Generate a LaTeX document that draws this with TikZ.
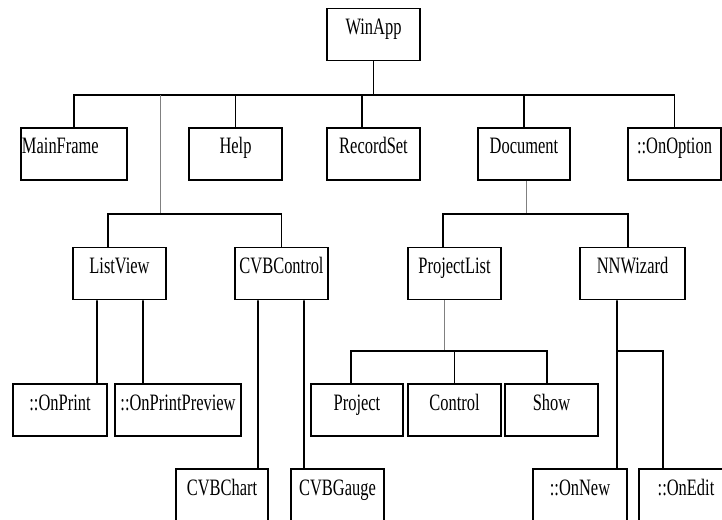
\documentclass[tikz,border=0pt]{standalone}
\usepackage{fontspec}
\setmainfont{Liberation Serif}[FakeStretch=0.7]
\begin{document}
\begin{tikzpicture}[x=1bp,y=-1bp,
  box/.style={draw, line width=1.8bp, inner sep=0pt, minimum height=52bp,
              text height=26bp, text depth=26bp,
              font=\fontsize{23.5bp}{27bp}\selectfont},
  conn/.style={line width=1.6bp},
  thinconn/.style={line width=0.9bp, draw=gray}]
\useasboundingbox (0,0) rectangle (722,520);
\clip (0,0) rectangle (722,520);

% class boxes
\node[box, minimum width=93bp]  (winapp)         at (373.5,34.5) {WinApp};
\node[box, minimum width=106bp] (mainframe)      at (74,154)     {\makebox[104bp][l]{MainFrame}};
\node[box, minimum width=93bp]  (help)           at (235.5,154)  {Help};
\node[box, minimum width=93bp]  (recordset)      at (373.5,154)  {RecordSet};
\node[box, minimum width=92bp]  (document)       at (524,154)    {Document};
\node[box, minimum width=93bp]  (onoption)       at (674.5,154)  {::OnOption};
\node[box, minimum width=93bp]  (listview)       at (119.5,273.5){ListView};
\node[box, minimum width=93bp]  (cvbcontrol)     at (281.5,273.5){CVBControl};
\node[box, minimum width=93bp]  (projectlist)    at (454.5,273.5){ProjectList};
\node[box, minimum width=105bp] (nnwizard)       at (632.5,273.5){NNWizard};
\node[box, minimum width=94bp]  (onprint)        at (60,410)     {::OnPrint};
\node[box, minimum width=126bp] (onprintpreview) at (178,410)    {::OnPrintPreview};
\node[box, minimum width=92bp]  (project)        at (357,410)    {Project};
\node[box, minimum width=93bp]  (control)        at (454.5,410)  {Control};
\node[box, minimum width=93bp]  (show)           at (551.5,410)  {Show};
\node[box, minimum width=92bp]  (cvbchart)       at (222,495)    {CVBChart};
\node[box, minimum width=93bp]  (cvbgauge)       at (337.5,495)  {CVBGauge};
\node[box, minimum width=94bp]  (onnew)          at (580,495)    {::OnNew};
\node[box, minimum width=94bp]  (onedit)         at (686,495)    {::OnEdit};

% bus levels
\coordinate (busA) at (0,95);
\coordinate (busB) at (0,214);
\coordinate (busC) at (0,351);
\coordinate (tapA) at (160,0);

% attachment points off the box centres
\coordinate (recT)  at ([xshift=-11.5bp]recordset.north);
\coordinate (lvT)   at ([xshift=-11.5bp]listview.north);
\coordinate (plT)   at ([xshift=-11.5bp]projectlist.north);
\coordinate (nnT)   at ([xshift=-4.5bp]nnwizard.north);
\coordinate (docB)  at ([xshift=2bp]document.south);
\coordinate (plB)   at ([xshift=-10.5bp]projectlist.south);
\coordinate (nnB)   at ([xshift=-15.5bp]nnwizard.south);
\coordinate (prjT)  at ([xshift=-6bp]project.north);
\coordinate (shwT)  at ([xshift=-4.5bp]show.north);
\coordinate (oeT)   at ([xshift=-23bp]onedit.north);

% WinApp level
\draw[conn] (winapp.south) -- (winapp.south |- busA);
\draw[conn] (mainframe.north) -- (mainframe.north |- busA)
            -- (onoption.north |- busA) -- (onoption.north);
\draw[conn] (help.north) -- (help.north |- busA);
\draw[conn] (recT) -- (recT |- busA);
\draw[conn] (document.north) -- (document.north |- busA);
\draw[thinconn] (tapA |- busA) -- (tapA |- busB);

% views
\draw[conn] (lvT) |- (cvbcontrol.north |- busB) -- (cvbcontrol.north);
\draw[conn] ([xshift=-22.5bp]listview.south) -- ([xshift=37bp]onprint.north);
\draw[conn] ([xshift=23.5bp]listview.south) -- ([xshift=-35bp]onprintpreview.north);
\draw[conn] ([xshift=-23.5bp]cvbcontrol.south) -- ([xshift=36bp]cvbchart.north);
\draw[conn] ([xshift=22.5bp]cvbcontrol.south) -- ([xshift=-33.5bp]cvbgauge.north);

% document
\draw[thinconn] (docB) -- (docB |- busB);
\draw[conn] (plT) |- (nnT |- busB) -- (nnT);
\draw[thinconn] (plB) -- (plB |- busC);
\draw[conn] (prjT) |- (shwT |- busC) -- (shwT);
\draw[conn] (control.north) -- (control.north |- busC);
\draw[conn] (nnB) -- ([xshift=37bp]onnew.north);
\draw[conn] (nnB |- busC) -| (oeT);
\end{tikzpicture}
\end{document}
